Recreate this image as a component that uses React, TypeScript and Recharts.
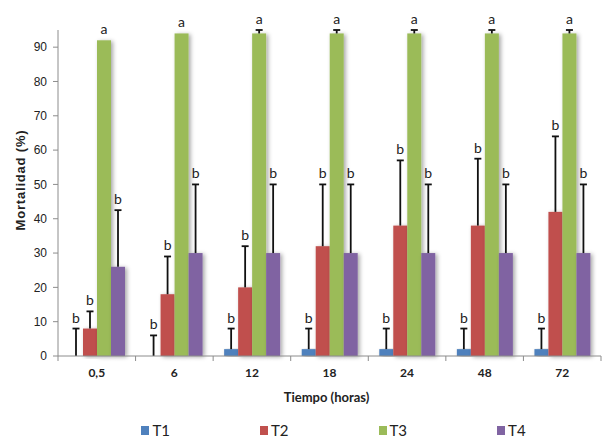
import { BarChart, Bar, XAxis, YAxis, Legend } from "recharts";

const TIMES = ["0,5", "6", "12", "18", "24", "48", "72"];

const T1 = [0, 0, 2, 2, 2, 2, 2];
const T1_ERR = [8, 6, 6, 6, 6, 6, 6];
const T2 = [8, 18, 20, 32, 38, 38, 42];
const T2_ERR = [5, 11, 12, 18, 19, 19.5, 22];
const T3 = [92, 94, 94, 94, 94, 94, 94];
const T3_ERR = [0, 0, 1, 1, 1, 1, 1];
const T4 = [26, 30, 30, 30, 30, 30, 30];
const T4_ERR = [16.5, 20, 20, 20, 20, 20, 20];

const LETTERS_T1 = ["b", "b", "b", "b", "b", "b", "b"];
const LETTERS_T2 = ["b", "b", "b", "b", "b", "b", "b"];
const LETTERS_T3 = ["a", "a", "a", "a", "a", "a", "a"];
const LETTERS_T4 = ["b", "b", "b", "b", "b", "b", "b"];

const Y_TICKS = [0, 10, 20, 30, 40, 50, 60, 70, 80, 90];

const SERIES = [
  { key: "T1", color: "#4F81BD", values: T1, err: T1_ERR, letters: LETTERS_T1 },
  { key: "T2", color: "#C0504D", values: T2, err: T2_ERR, letters: LETTERS_T2 },
  { key: "T3", color: "#9BBB59", values: T3, err: T3_ERR, letters: LETTERS_T3 },
  { key: "T4", color: "#8064A2", values: T4, err: T4_ERR, letters: LETTERS_T4 },
];

const AXIS = "#8c8c8c";
const CALIBRI = "Lato, 'Open Sans', sans-serif";

const data = TIMES.map((t, i) => {
  const row: Record<string, string | number> = { time: t };
  for (const s of SERIES) {
    row[s.key] = s.values[i];
    row[`${s.key}_err`] = s.err[i];
  }
  return row;
});

// eslint-disable-next-line @typescript-eslint/no-explicit-any
function BarShape(props: any) {
  const { x, y, width, height, fill } = props;
  if (!height || height <= 0) return null;
  return <rect x={x} y={y} width={width} height={height} fill={fill} filter="url(#barShadow)" />;
}

// barra de error (solo hacia arriba) + letra de significancia
// eslint-disable-next-line @typescript-eslint/no-explicit-any
function ErrShape(props: any) {
  const { x, y, width, height, letter } = props;
  const cx = x + width / 2;
  return (
    <g>
      {height > 0 && (
        <>
          <line x1={cx} x2={cx} y1={y + height} y2={y} stroke="#111" strokeWidth={1.8} />
          <line x1={cx - 3.5} x2={cx + 3.5} y1={y} y2={y} stroke="#111" strokeWidth={1.8} />
        </>
      )}
      <text x={cx} y={y - 6} textAnchor="middle" fontFamily={CALIBRI} fontSize={14} fill="#222">
        {letter}
      </text>
    </g>
  );
}

// eslint-disable-next-line @typescript-eslint/no-explicit-any
function XTick({ x, y, payload, index }: any) {
  const half = payload?.offset ?? 38.8;
  return (
    <g>
      <line x1={x - half} x2={x - half} y1={y - 8} y2={y - 3} stroke={AXIS} />
      {index === TIMES.length - 1 && (
        <line x1={x + half} x2={x + half} y1={y - 8} y2={y - 3} stroke={AXIS} />
      )}
      <text x={x} y={y + 13} textAnchor="middle" fontFamily={CALIBRI} fontWeight={700} fontSize={12} fill="#222">
        {payload.value}
      </text>
    </g>
  );
}

function ChartLegend() {
  return (
    <div
      style={{
        display: "flex",
        justifyContent: "center",
        gap: 90,
        paddingLeft: 64,
        height: 20,
        alignItems: "center",
      }}
    >
      {SERIES.map((s) => (
        <div key={s.key} style={{ display: "flex", alignItems: "center", gap: 3 }}>
          <span style={{ width: 8, height: 9, background: s.color, display: "inline-block" }} />
          <span style={{ fontFamily: CALIBRI, fontSize: 15, color: "#222" }}>{s.key}</span>
        </div>
      ))}
    </div>
  );
}

export default function App() {
  return (
    <div style={{ position: "absolute", left: 0, top: 0, width: 603, height: 440, background: "#fff" }}>
      <BarChart
        width={603}
        height={440}
        data={data}
        margin={{ top: 30, right: 2, left: 0, bottom: 12 }}
        barSize={14}
        barGap={0}
      >
        <defs>
          <filter id="barShadow" x="-60%" y="-10%" width="220%" height="120%">
            <feDropShadow dx="2" dy="1" stdDeviation="2.2" floodColor="#000" floodOpacity="0.35" />
          </filter>
        </defs>
        <XAxis
          dataKey="time"
          height={52}
          stroke={AXIS}
          tickLine={false}
          tickSize={6}
          tickMargin={2}
          tick={<XTick />}
          interval={0}
          label={{
            // eslint-disable-next-line @typescript-eslint/no-explicit-any
            content: ({ viewBox }: any) => (
              <text
                x={viewBox.x + viewBox.width / 2 - 3}
                y={viewBox.y + 46}
                textAnchor="middle"
                fontFamily={CALIBRI}
                fontWeight={700}
                fontSize={13}
                fill="#222"
              >
                Tiempo (horas)
              </text>
            ),
          }}
        />
        <YAxis
          width={58}
          domain={[0, 95]}
          ticks={Y_TICKS}
          stroke={AXIS}
          tickSize={5}
          tickMargin={6}
          tick={{ fontFamily: "'Liberation Sans', Arial, sans-serif", fontSize: 12, fill: "#222" }}
          label={{
            // eslint-disable-next-line @typescript-eslint/no-explicit-any
            content: ({ viewBox }: any) => {
              const cx = viewBox.x + 20;
              const cy = viewBox.y + viewBox.height / 2 - 13;
              return (
                <text
                  x={cx}
                  y={cy}
                  transform={`rotate(-90 ${cx} ${cy})`}
                  textAnchor="middle"
                  dominantBaseline="central"
                  fontFamily="'Liberation Sans', Arial, sans-serif"
                  fontWeight={700}
                  fontSize={13}
                  letterSpacing={0.8}
                  fill="#222"
                >
                  Mortalidad (%)
                </text>
              );
            },
          }}
        />
        <Legend
          verticalAlign="bottom"
          content={<ChartLegend />}
          wrapperStyle={{ left: 0, bottom: 0, width: 603 }}
        />
        {SERIES.flatMap((s) => [
          <Bar
            key={s.key}
            dataKey={s.key}
            stackId={s.key}
            fill={s.color}
            shape={<BarShape />}
            isAnimationActive={false}
          />,
          <Bar
            key={`${s.key}_err`}
            dataKey={`${s.key}_err`}
            stackId={s.key}
            fill="transparent"
            legendType="none"
            // eslint-disable-next-line @typescript-eslint/no-explicit-any
            shape={(p: any) => <ErrShape {...p} letter={s.letters[p.index]} />}
            isAnimationActive={false}
          />,
        ])}
      </BarChart>
    </div>
  );
}
